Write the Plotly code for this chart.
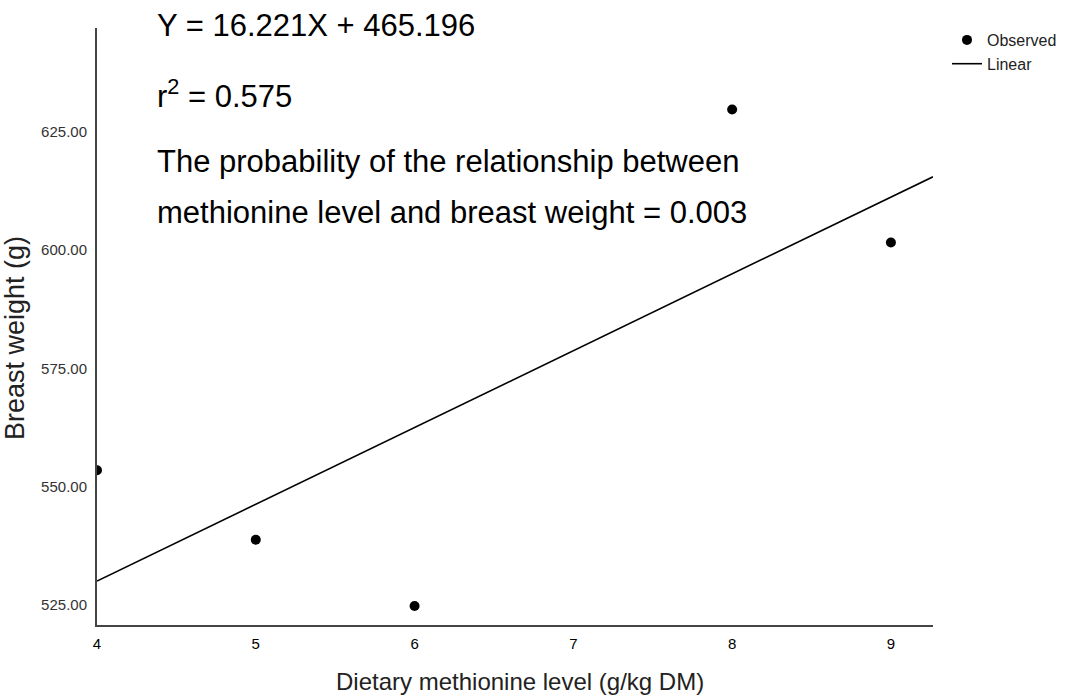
import plotly.graph_objects as go

# Data
methionine_levels = [4, 5, 6, 8, 9]
breast_weight = [553.5, 538.8, 524.8, 629.7, 601.6]

slope = 16.221
intercept = 465.196
line_x = [4, 9.265]
line_y = [intercept + slope * x for x in line_x]

y_ticks = [525, 550, 575, 600, 625]
y_tick_labels = ["525.00", "550.00", "575.00", "600.00", "625.00"]
x_ticks = [4, 5, 6, 7, 8, 9]

FONT = "Liberation Sans, Arial, sans-serif"

fig = go.Figure()
fig.add_trace(go.Scatter(
    x=methionine_levels, y=breast_weight, mode="markers", name="Observed",
    marker=dict(color="black", size=10),
))
fig.add_trace(go.Scatter(
    x=line_x, y=line_y, mode="lines", name="Linear",
    line=dict(color="black", width=1.6),
))

L, R, T, B = 97, 143, 28, 74
W, H = 1076, 699
pw, ph = W - L - R, H - T - B

def px(xp):
    return (xp - L) / pw

def py(yp):
    return (H - B - yp) / ph

annotations = [
    dict(text="Y = 16.221X + 465.196", x=px(155), y=py(26)),
    dict(text="r<sup>2</sup> = 0.575", x=px(155), y=py(94)),
    dict(text="The probability of the relationship between", x=px(155), y=py(161)),
    dict(text="methionine level and breast weight = 0.003", x=px(155), y=py(213)),
]
ann = []
for a in annotations:
    ann.append(dict(text=a["text"], x=a["x"], y=a["y"], xref="paper", yref="paper",
                    xanchor="left", yanchor="middle", showarrow=False,
                    font=dict(family=FONT, size=31, color="black")))
ann.append(dict(text="Dietary methionine level (g/kg DM)", x=px(520), y=py(681),
                xref="paper", yref="paper", xanchor="center", yanchor="middle",
                showarrow=False, font=dict(family=FONT, size=24, color="#222")))
ann.append(dict(text="Breast weight (g)", x=px(15), y=py(338), textangle=-90,
                xref="paper", yref="paper", xanchor="center", yanchor="middle",
                showarrow=False, font=dict(family=FONT, size=27, color="#222")))

fig.update_layout(
    width=W, height=H,
    margin=dict(l=L, r=R, t=T, b=B),
    paper_bgcolor="white", plot_bgcolor="white",
    font=dict(family=FONT, color="#222"),
    showlegend=True,
    legend=dict(x=px(947), y=py(23), xanchor="left", yanchor="top",
                font=dict(family=FONT, size=16, color="#222"),
                bgcolor="rgba(0,0,0,0)", tracegroupgap=0, borderwidth=0),
    annotations=ann,
    xaxis=dict(range=[4, 9.265], tickvals=x_ticks, showgrid=False, zeroline=False,
               showline=True, linecolor="#444", linewidth=2, ticks="",
               ticklabelstandoff=4,
               tickfont=dict(family=FONT, size=15, color="black")),
    yaxis=dict(range=[520.8, 646.9], tickvals=y_ticks, ticktext=y_tick_labels,
               showgrid=False, zeroline=False,
               showline=True, linecolor="#444", linewidth=2, ticks="",
               ticklabelstandoff=5,
               tickfont=dict(family=FONT, size=15, color="#333")),
)

fig.write_html("out.html")
